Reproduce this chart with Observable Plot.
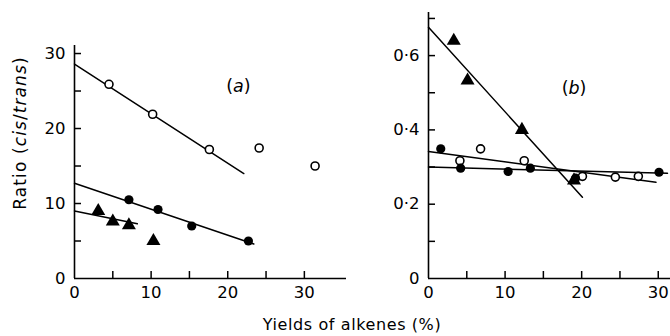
<!DOCTYPE html>
<html><head><meta charset="utf-8">
<script src="https://cdn.jsdelivr.net/npm/d3@7"></script>
<script src="https://cdn.jsdelivr.net/npm/@observablehq/plot@0.6"></script>
<style>
body{margin:0;background:#fff;}
#wrap{position:relative;width:670px;height:336px;font-family:"DejaVu Sans",sans-serif;color:#000;overflow:hidden}
#wrap svg{position:absolute;top:0}
#ytitle{position:absolute;left:20px;top:133px;transform:translate(-50%,-50%) rotate(-90deg);font-size:17px;letter-spacing:1.1px;white-space:nowrap}
#xtitle{position:absolute;left:352px;top:324px;transform:translate(-50%,-50%);font-size:16px;letter-spacing:0.6px;white-space:nowrap}
</style></head><body><div id="wrap"><div id="ytitle">Ratio (<i>cis</i>/<i>trans</i>)</div><div id="xtitle">Yields of alkenes (%)</div></div>
<script>
// ---- Panel (a) data ----
const aOpenX = [4.5, 10.2, 17.6, 24.1, 31.4];
const aOpenY = [25.9, 21.9, 17.2, 17.4, 15.0];
const aFilledX = [7.1, 10.9, 15.3, 22.7];
const aFilledY = [10.5, 9.2, 7.0, 5.0];
const aTriX = [3.1, 5.0, 7.1, 10.3];
const aTriY = [9.0, 7.6, 7.1, 5.0];
const aOpenLineX = [0, 22.1], aOpenLineY = [28.6, 14.0];
const aFilledLineX = [0, 23.4], aFilledLineY = [12.7, 4.6];
const aTriLineX = [0, 8.2], aTriLineY = [9.0, 7.3];
const aXTicks = [5, 10, 15, 20, 25, 30];
const aXLabels = [0, 10, 20, 30];
const aYTicks = [5, 10, 15, 20, 25, 30];
const aYLabels = [0, 10, 20, 30];

// ---- Panel (b) data ----
const bTriX = [3.3, 5.1, 12.2, 19.0];
const bTriY = [0.640, 0.533, 0.400, 0.264];
const bFilledX = [1.6, 4.2, 10.4, 13.3, 19.2, 30.1];
const bFilledY = [0.349, 0.297, 0.288, 0.297, 0.270, 0.286];
const bOpenX = [4.1, 6.8, 12.5, 20.1, 24.4, 27.4];
const bOpenY = [0.317, 0.349, 0.317, 0.275, 0.273, 0.275];
const bTriLineX = [0, 20.1], bTriLineY = [0.676, 0.219];
const bFilledLineX = [0, 31.2], bFilledLineY = [0.300, 0.283];
const bOpenLineX = [0, 29.7], bOpenLineY = [0.342, 0.259];
const bXTicks = [5, 10, 15, 20, 25, 30];
const bXLabels = [0, 10, 20, 30];
const bYTicks = [0.1, 0.2, 0.3, 0.4, 0.5, 0.6, 0.7];
const bYLabels = [0, 0.2, 0.4, 0.6];

const zip = (xs, ys) => xs.map((x, i) => ({x, y: ys[i]}));
const font = "DejaVu Sans, sans-serif";

function axes(xt, xl, yt, yl, yfmt) {
  return [
    Plot.axisX(xt, {tickSize: 7, dy: -7, fill: "none", strokeWidth: 1.5}),
    Plot.axisX(xl, {tickSize: 0, tickPadding: 8, fontSize: 16.5, tickFormat: d => String(d), label: null}),
    Plot.axisY(yt, {tickSize: 7, dx: 7, fill: "none", strokeWidth: 1.5}),
    Plot.axisY(yl, {tickSize: 0, tickPadding: 9, fontSize: 16.5, tickFormat: yfmt, label: null}),
    Plot.ruleX([0], {strokeWidth: 1.6}),
    Plot.ruleY([0], {strokeWidth: 1.6})
  ];
}

const plotA = Plot.plot({
  width: 350, height: 336,
  marginLeft: 74, marginRight: 4, marginTop: 45, marginBottom: 58,
  style: {fontFamily: font, background: "transparent", color: "#000"},
  x: {domain: [0, 35.5]},
  y: {domain: [0, 31.07]},
  marks: [
    ...axes(aXTicks, aXLabels, aYTicks, aYLabels, d => String(d)),
    Plot.line(zip(aOpenLineX, aOpenLineY), {x: "x", y: "y", strokeWidth: 1.5}),
    Plot.line(zip(aFilledLineX, aFilledLineY), {x: "x", y: "y", strokeWidth: 1.5}),
    Plot.line(zip(aTriLineX, aTriLineY), {x: "x", y: "y", strokeWidth: 1.5}),
    Plot.dot(zip(aOpenX, aOpenY), {x: "x", y: "y", r: 4, fill: "#fff", stroke: "#000", strokeWidth: 1.6}),
    Plot.dot(zip(aFilledX, aFilledY), {x: "x", y: "y", r: 4.6, fill: "#000", stroke: "none"}),
    Plot.dot(zip(aTriX, aTriY), {x: "x", y: "y", r: 5.2, symbol: "triangle", fill: "#000", stroke: "none"}),
    Plot.text(["(a)"], {x: 21.4, y: 25.6, fontSize: 17.5, className: "plabel"})
  ]
});
plotA.style.left = "0px";

const plotB = Plot.plot({
  width: 320, height: 336,
  marginLeft: 78, marginRight: 0, marginTop: 12, marginBottom: 58,
  style: {fontFamily: font, background: "transparent", color: "#000"},
  x: {domain: [0, 31.6]},
  y: {domain: [0, 0.716]},
  marks: [
    ...axes(bXTicks, bXLabels, bYTicks, bYLabels, d => d === 0 ? "0" : d.toFixed(1).replace(".", "·")),
    Plot.line(zip(bTriLineX, bTriLineY), {x: "x", y: "y", strokeWidth: 1.5}),
    Plot.line(zip(bFilledLineX, bFilledLineY), {x: "x", y: "y", strokeWidth: 1.5}),
    Plot.line(zip(bOpenLineX, bOpenLineY), {x: "x", y: "y", strokeWidth: 1.5}),
    Plot.dot(zip(bOpenX, bOpenY), {x: "x", y: "y", r: 4, fill: "#fff", stroke: "#000", strokeWidth: 1.6}),
    Plot.dot(zip(bFilledX, bFilledY), {x: "x", y: "y", r: 4.6, fill: "#000", stroke: "none"}),
    Plot.dot(zip(bTriX, bTriY), {x: "x", y: "y", r: 5.2, symbol: "triangle", fill: "#000", stroke: "none"}),
    Plot.text(["(b)"], {x: 19.0, y: 0.511, fontSize: 17.5, className: "plabel"})
  ]
});
plotB.style.left = "350px";

const wrap = document.getElementById("wrap");
wrap.appendChild(plotA);
wrap.appendChild(plotB);

// italicise the panel letters, keep the parentheses upright
d3.selectAll(".plabel text").each(function () {
  const t = this.textContent;
  const letter = t.slice(1, -1);
  const sel = d3.select(this);
  sel.text(null);
  sel.append("tspan").text("(");
  sel.append("tspan").attr("font-style", "italic").text(letter);
  sel.append("tspan").text(")");
});
</script></body></html>
